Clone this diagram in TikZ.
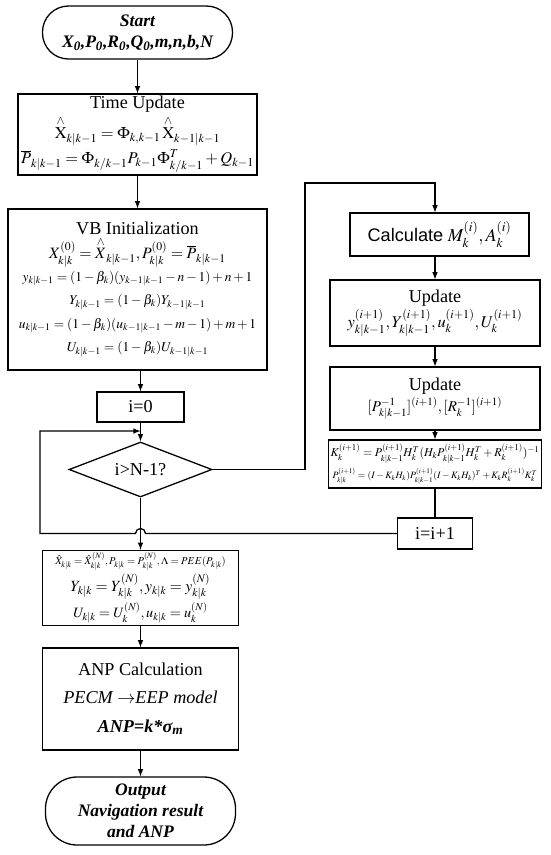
\documentclass[tikz,border=0pt]{standalone}
\usepackage{amsmath}
\usepackage{mathptmx}
\usepackage{fontspec}
\setmainfont{Liberation Serif}
\newfontfamily\calcfont{Liberation Sans}
\usetikzlibrary{arrows.meta}
\usetikzlibrary{shapes.geometric}

\begin{document}
\begin{tikzpicture}[>=latex,x=0.03cm,y=0.03cm,line width=1.1pt,
  box/.style={draw,rectangle,align=center,inner sep=2pt},
  term/.style={draw,rectangle,align=center,font=\fontsize{15}{18}\selectfont\bfseries\itshape},
  ttl/.style={font=\fontsize{15.5}{18}\selectfont}]
\useasboundingbox (0,0) rectangle (550,-855);

\node[term,rounded corners=0.78cm,minimum width=5.7cm,minimum height=1.59cm](start) at (137.5,-32.5) {Start\\X\textsubscript{0},P\textsubscript{0},R\textsubscript{0},Q\textsubscript{0},m,n,b,N};

\node[box,font=\fontsize{14}{16}\selectfont,minimum width=7.17cm,minimum height=2.43cm](tu) at (137.5,-134.5) {{\fontsize{15.5}{16}\selectfont Time Update}\\[2pt]
$\overset{\wedge}{\mathrm{X}}_{k|k-1}=\Phi_{k,k-1}\,\overset{\wedge}{\mathrm{X}}_{k-1|k-1}$\\[3pt]
$\overline{P}_{k|k-1}=\Phi_{k/k-1}P_{k-1}\Phi^{T}_{k/k-1}+Q_{k-1}$};

\node[box,font=\fontsize{11.5}{14}\selectfont,minimum width=7.77cm,minimum height=4.83cm](vb) at (137.5,-289.5) {{\fontsize{15.5}{16}\selectfont VB Initialization}\\[1pt]
{\fontsize{13.5}{15}\selectfont$X^{(0)}_{k|k}=\overset{\wedge}{X}_{k|k-1},P^{(0)}_{k|k}=\overline{P}_{k|k-1}$}\\[2pt]
$y_{k|k-1}=(1-\beta_k)(y_{k-1|k-1}-n-1)+n+1$\\[6pt]
$Y_{k|k-1}=(1-\beta_k)Y_{k-1|k-1}$\\[6pt]
$u_{k|k-1}=(1-\beta_k)(u_{k-1|k-1}-m-1)+m+1$\\[6pt]
$U_{k|k-1}=(1-\beta_k)U_{k-1|k-1}$};

\node[box,ttl,minimum width=2.61cm,minimum height=0.9cm](i0) at (140.5,-407) {i=0};
\node[draw,diamond,aspect=2.6,inner sep=0pt,ttl,minimum width=4.29cm,minimum height=1.65cm](dia) at (140.5,-469.5) {i>N-1?};

\node[box,font=\fontsize{13.3}{14}\selectfont,minimum width=5.88cm,minimum height=2.04cm](est) at (140.5,-588) {{\fontsize{9}{11}\selectfont$\hat{X}_{k|k}=\hat{X}^{(N)}_{k|k},P_{k|k}=P^{(N)}_{k|k},\Lambda=PEE(P_{k|k})$}\\[2pt]
$Y_{k|k}=Y^{(N)}_{k|k},y_{k|k}=y^{(N)}_{k|k}$\\[1pt]
{\fontsize{12.2}{13}\selectfont$U_{k|k}=U^{(N)}_{k},u_{k|k}=u^{(N)}_{k}$}};

\node[box,ttl,minimum width=5.88cm,minimum height=3.06cm](anp) at (140.5,-699) {ANP Calculation\\[6pt]
\textit{PECM $\rightarrow$EEP model}\\[6pt]
\textbf{\textit{ANP=k*σ\textsubscript{m}}}};

\node[term,rounded corners=0.95cm,minimum width=5.7cm,minimum height=2.04cm](out) at (140.5,-811) {Output\\Navigation result\\and ANP};

\node[box,ttl,minimum width=5.37cm,minimum height=1.29cm](calc) at (439.5,-234.5) {{\calcfont Calculate} $M_k^{(i)},A_k^{(i)}$};

\node[box,ttl,minimum width=6.3cm,minimum height=1.98cm](up1) at (435,-313) {Update\\[2pt]
{\fontsize{14}{16}\selectfont$y^{(i+1)}_{k|k-1},Y^{(i+1)}_{k|k-1},u^{(i+1)}_{k},U^{(i+1)}_{k}$}};

\node[box,ttl,minimum width=6.3cm,minimum height=1.89cm](up2) at (435,-398.5) {Update\\
{\fontsize{12.8}{15}\selectfont$[P^{-1}_{k|k-1}]^{(i+1)},[R^{-1}_{k}]^{(i+1)}$}};

\node[box,font=\fontsize{8.3}{10}\selectfont,minimum width=6.36cm,minimum height=1.44cm](kb) at (435,-464) {{\fontsize{10.2}{12}\selectfont$K^{(i+1)}_{k}=P^{(i+1)}_{k|k-1}H^{T}_{k}(H_{k}P^{(i+1)}_{k|k-1}H^{T}_{k}+R^{(i+1)}_{k})^{-1}$}\\[3pt]
$P^{(i+1)}_{k|k}=(I-K_{k}H_{k})P^{(i+1)}_{k|k-1}(I-K_{k}H_{k})^{T}+K_{k}R^{(i+1)}_{k}K^{T}_{k}$};

\node[box,ttl,minimum width=2.25cm,minimum height=0.93cm](inc) at (435,-533.5) {i=i+1};

\coordinate(up) at (305,-183);
\coordinate(hop) at (140.5,-533.5);
\coordinate(back) at (140.5,-431);

\draw[->] (start) -- (tu);
\draw[->] (tu) -- (vb);
\draw[->] (vb.south -| i0.north) -- (i0);
\draw[->] (i0) -- (dia);
\draw[->] (dia) -- (est);
\draw[->] (est) -- (anp);
\draw[->] (anp) -- (out);

\draw[->] (dia.east) -| (up) -| (calc.north -| up1.north);
\draw[->] (calc.south -| up1.north) -- (up1);
\draw[->] (up1) -- (up2);
\draw[->] (up2) -- (kb);
\draw (kb) -- (inc);
\draw[->] (inc.west) -- ([xshift=0.15cm]hop) arc[start angle=0,end angle=180,radius=0.15cm] -- (40,-533.5) |- (back);
\end{tikzpicture}
\end{document}
